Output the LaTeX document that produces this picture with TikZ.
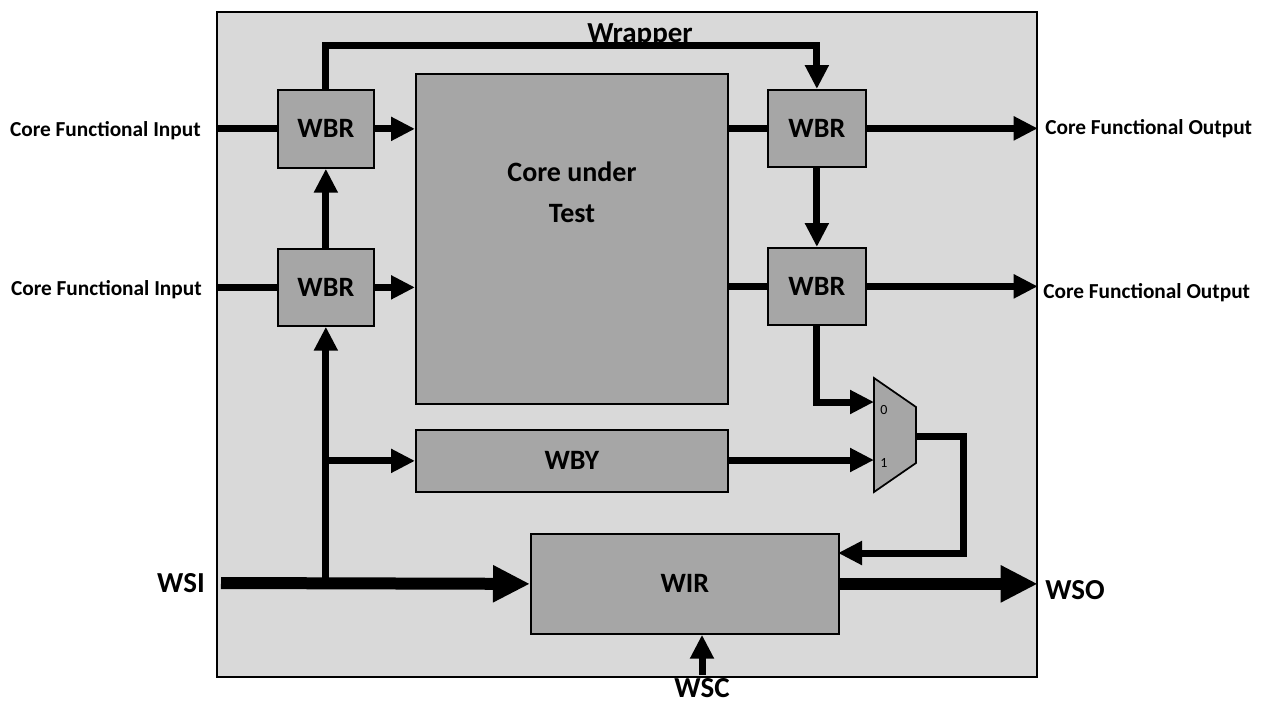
\documentclass[tikz,border=0pt]{standalone}
\usepackage{fontspec}
\setmainfont{Carlito}
\usetikzlibrary{arrows.meta,calc}
\definecolor{wrapgray}{HTML}{D9D9D9}
\definecolor{boxgray}{HTML}{A6A6A6}
\tikzset{
  box/.style={draw, fill=boxgray, line width=1.3pt, inner sep=0pt, anchor=north west},
  bigtext/.style={font=\bfseries\fontsize{21pt}{26pt}\selectfont},
  sidetext/.style={font=\bfseries\fontsize{16pt}{18pt}\selectfont, inner sep=0pt},
  pintext/.style={font=\bfseries\fontsize{21.75pt}{26pt}\selectfont, inner sep=0pt},
  muxtext/.style={font=\fontsize{10.5pt}{12pt}\selectfont, inner sep=0pt},
  arr/.style={line width=5.25pt, -{Triangle[length=18pt,width=17pt]}},
  wire/.style={line width=5.25pt},
  fatarr/.style={line width=9pt, -{Triangle[length=27.75pt,width=26pt]}},
}
\begin{document}
\begin{tikzpicture}[x=0.75pt,y=-0.75pt]
\useasboundingbox (0,0) rectangle (1268,704);
% wrapper
\node[draw, fill=wrapgray, line width=1.3pt, inner sep=0pt, anchor=north west,
      minimum width=615pt, minimum height=498.75pt] (wrap) at (216,11) {};
\node[pintext, anchor=base] (wraplabel) at (640,42) {Wrapper};
% boxes
\node[box, minimum width=72pt, minimum height=58.5pt] (wbr1) at (277,89) {};
\node[bigtext] at (wbr1.center) {WBR};
\node[box, minimum width=72pt, minimum height=57.75pt] (wbr2) at (277,248) {};
\node[bigtext] at (wbr2.center) {WBR};
\node[box, minimum width=234pt, minimum height=247.5pt] (core) at (415,73) {};
\node[bigtext, align=center] (coretext) at (572,192) {Core under\\[5pt]Test};
\node[box, minimum width=73.5pt, minimum height=57.75pt] (wbr3) at (767,89) {};
\node[bigtext] at (wbr3.center) {WBR};
\node[box, minimum width=73.5pt, minimum height=57.75pt] (wbr4) at (767,247) {};
\node[bigtext] at (wbr4.center) {WBR};
\node[box, minimum width=234pt, minimum height=46.5pt] (wby) at (415,429) {};
\node[bigtext] at (wby.center) {WBY};
\node[box, minimum width=231pt, minimum height=75pt] (wir) at (530,533) {};
\node[bigtext] at (wir.center) {WIR};
% mux
\draw[fill=boxgray, line width=1.3pt] (874,378) -- (916,407) -- (916,463) -- (874,492) -- cycle;
\coordinate (mux0) at (874,402);
\coordinate (mux1) at (874,460);
\coordinate (muxout) at (916,436);
\coordinate (muxturn) at (963,436);
\coordinate (wirin) at (838,553);
\node[muxtext] (m0) at (884,410) {0};
\node[muxtext] (m1) at (884,463) {1};
% side labels
\node[sidetext, anchor=base east] (cfi1) at (201,136) {Core Functional Input};
\node[sidetext, anchor=base east] (cfi2) at (202,295) {Core Functional Input};
\node[sidetext, anchor=base west] (cfo1) at (1045,134) {Core Functional Output};
\node[sidetext, anchor=base west] (cfo2) at (1043,298) {Core Functional Output};
\node[pintext, anchor=base east] (wsi) at (205,592) {WSI};
\node[pintext, anchor=base west] (wso) at (1045,599) {WSO};
\node[pintext, anchor=base] (wsc) at (702,697) {WSC};
\coordinate (wsistart) at (221,583);
\coordinate (wscin) at (702,675);
% connectors
\draw[wire] (wbr1.west -| wrap.west) -- (wbr1.west);
\draw[wire] (wbr2.west -| wrap.west) -- (wbr2.west);
\draw[arr] (wbr1.east) -- (wbr1.east -| core.west);
\draw[arr] (wbr2.east) -- (wbr2.east -| core.west);
\draw[arr] (wbr2.north) -- (wbr1.south);
\draw[arr] (wbr1.north) -- ++(0,-44) -| (wbr3.north);
\draw[wire] (wbr3.west -| core.east) -- (wbr3.west);
\draw[wire] (wbr4.west -| core.east) -- (wbr4.west);
\draw[arr] (wbr3.east) -- (wbr3.east -| wrap.east);
\draw[arr] (wbr4.east) -- (wbr4.east -| wrap.east);
\draw[arr] (wbr3.south) -- (wbr4.north);
\draw[arr] (wbr4.south) |- (mux0);
\draw[arr] (wby.east |- mux1) -- (mux1);
\draw[arr] (muxout) -- (muxturn) |- (wirin);
\draw[arr] (wbr2.south |- wir.west) -- (wbr2.south);
\draw[arr] (wbr2.south |- wby.west) -- (wby.west);
\draw[fatarr] (wsistart) -- (wir.west);
\draw[fatarr] (wir.east) -- (wir.east -| wrap.east);
\draw[arr] (wscin) -- (wscin |- wir.south);
\end{tikzpicture}
\end{document}
